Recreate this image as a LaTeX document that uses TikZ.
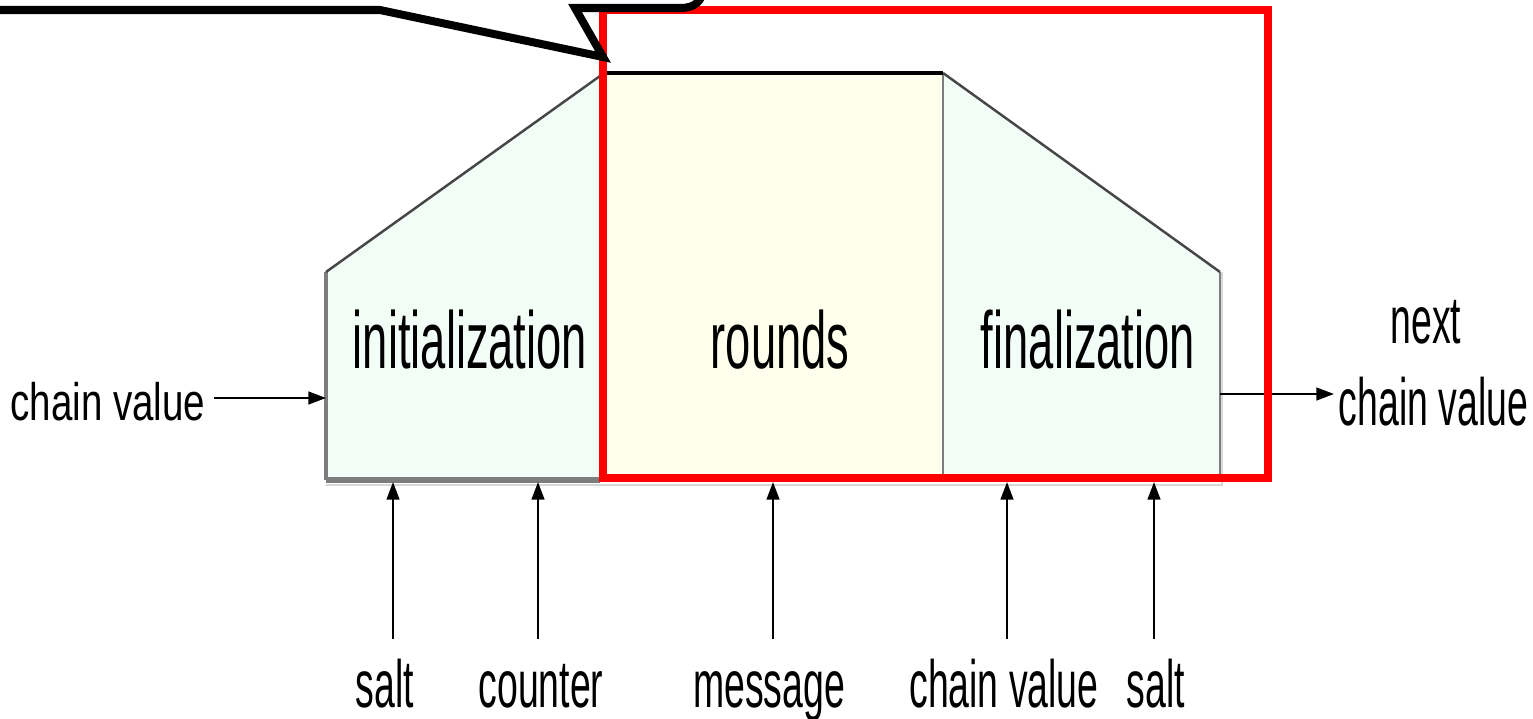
\documentclass[tikz,border=0pt]{standalone}
\usepackage{fontspec}
\setmainfont{Liberation Sans}
\newfontfamily\narrowfont[FakeStretch=0.56]{Liberation Sans}
\newfontfamily\widerfont[FakeStretch=0.73]{Liberation Sans}
\usetikzlibrary{arrows.meta, positioning}

\definecolor{mint}{RGB}{243,253,247}
\definecolor{ivory}{RGB}{255,255,238}
\definecolor{edgegray}{RGB}{125,125,125}
\definecolor{shadegray}{RGB}{215,215,215}
\definecolor{slopegray}{RGB}{70,70,70}

\begin{document}
\begin{tikzpicture}[x=0.01cm, y=-0.01cm,
	inarrow/.style={-{Triangle[length=5pt,width=3.6pt]}, line width=0.65pt},
	blocklabel/.style={font=\narrowfont\fontsize{23}{23}\selectfont, anchor=base, inner sep=0pt},
	iolabel/.style={font=\narrowfont\fontsize{19}{19}\selectfont, anchor=base, inner sep=0pt}]
	\useasboundingbox (0,0) rectangle (1533,718);
	\clip (0,0) rectangle (1533,718);
	
	% the three stages of the compression function
	\fill[mint] (326,480) -- (326,272) -- (600,76) -- (600,480) -- cycle;
	\fill[ivory] (600,73) rectangle (943,480);
	\fill[mint] (943,480) -- (943,73) -- (1220,272) -- (1220,480) -- cycle;
	
	% edges
	\draw[shadegray, line width=0.6pt] (326,485) -- (1222,485) -- (1222,272);
	\draw[edgegray, line width=0.9pt] (326,272) -- (326,480);
	\draw[edgegray, line width=1.6pt] (326,480) -- (600,480);
	\draw[edgegray, line width=0.6pt] (943,73) -- (943,480);
	\draw[edgegray, line width=0.6pt] (1220,272) -- (1220,480);
	\draw[slopegray, line width=0.7pt] (326,272) -- (600,76);
	\draw[slopegray, line width=0.7pt] (943,73) -- (1220,272);
	\draw[black, line width=0.9pt] (600,73) -- (943,73);
	
	\node[blocklabel] (init) at (470,368) {initialization};
	\node[blocklabel] (rounds) at (780,368) {rounds};
	\node[blocklabel] (final) at (1088,368) {finalization};
	
	% points where the inputs enter
	\coordinate (initL) at (326,398);
	\coordinate (finR) at (1220,394);
	\coordinate (tipA) at (393,482);
	\coordinate (tipB) at (538,482);
	\coordinate (tipC) at (773,482);
	\coordinate (tipD) at (1007,482);
	\coordinate (tipE) at (1154,482);
	
	% inputs and output
	\node[font=\widerfont\fontsize{15}{15}\selectfont, anchor=base, inner sep=0pt] (cvin) at (108,420) {chain value};
	\node[iolabel] (nxt) at (1426,343) {next};
	\node[iolabel, anchor=base west] (cvout) at (1338,425) {chain value};
	
	\node[iolabel] (saltA) at (385,707) {salt};
	\node[iolabel] (ctr) at (541,707) {counter};
	\node[iolabel] (msg) at (769,707) {message};
	\node[iolabel] (cvfin) at (1004,707) {chain value};
	\node[iolabel] (saltB) at (1156,707) {salt};
	
	\draw[inarrow] ([xshift=0.08cm]initL -| cvin.east) -- (initL);
	\draw[inarrow] (finR) -- ([xshift=-0.04cm]finR -| cvout.west);
	
	\draw[inarrow] ([yshift=0.19cm]saltA.north -| tipA) -- (tipA);
	\draw[inarrow] ([yshift=0.19cm]saltA.north -| tipB) -- (tipB);
	\draw[inarrow] ([yshift=0.19cm]saltA.north -| tipC) -- (tipC);
	\draw[inarrow] ([yshift=0.19cm]saltA.north -| tipD) -- (tipD);
	\draw[inarrow] ([yshift=0.19cm]saltA.north -| tipE) -- (tipE);
	
	% highlighted part
	\draw[red, line width=0.08cm] (603,10) rectangle (1268,478);
	
	% callout pointing at it
	\draw[black, line width=0.08cm] (-20,10) -- (380,10) -- (603,57) -- (575,8) -- (680,8)
		.. controls (695,8) and (702,2) .. (705,-15);
\end{tikzpicture}
\end{document}
